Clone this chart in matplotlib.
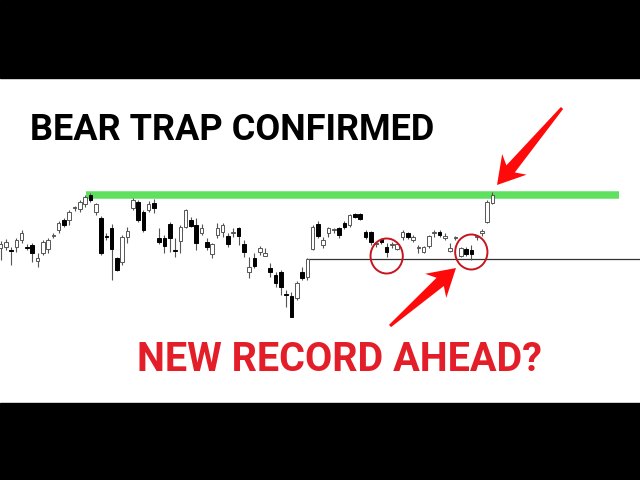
import numpy as np
import matplotlib.pyplot as plt
from matplotlib.patches import Ellipse, Polygon, Rectangle

# daily candles (price units), oldest first
opens = [152, 153, 150.5, 153, 160, 153.5, 155, 139, 147, 151,
         164, 170, 180, 180, 192, 191, 196, 205, 188, 182,
         163.5, 172, 142, 138, 163, 192, 198, 188, 190, 197,
         162, 162, 176, 149.5, 159, 173, 180, 175, 167, 158,
         146, 165, 168, 164, 167, 172, 156, 128, 142, 148,
         144, 132, 125, 128, 105.5, 104, 102, 128, 123, 151,
         176, 155, 167, 170, 172, 177, 175, 186, 186, 168,
         168, 156, 161, 153, 155, 151, 163, 167, 160, 152,
         148, 154, 167, 168, 162, 149, 162, 144, 151, 150,
         163, 167, 178, 197]
highs = [159, 161, 153, 162, 170, 156, 157, 147, 160, 162,
         167, 179, 182, 190, 194, 200, 205, 207, 197, 184,
         167, 176, 143, 165, 173, 202, 200, 190, 199, 201,
         172, 165, 178, 162, 175, 191, 183, 182, 176, 162,
         157, 177, 177, 167, 172, 173, 160, 143, 147, 154,
         152, 137, 128, 130, 110, 108, 119, 133, 142, 175,
         179, 163, 173, 172, 173, 179, 186, 187, 187, 170,
         169, 158, 162, 157, 158, 157, 170, 168, 165, 155,
         154, 165, 170, 170, 167, 157, 164, 153, 153, 155,
         165, 171, 200, 208]
lows = [140, 150, 135, 148, 157, 150, 138, 133, 145, 147,
        162, 167, 173, 175, 189, 188, 193, 198, 185, 145,
        160, 120, 129, 135, 157, 190, 178, 168, 188, 187,
        156, 147, 148, 143, 147, 172, 173, 150, 165, 150,
        142, 162, 163, 153, 163, 155, 143, 122, 132, 145,
        144, 123, 113, 105, 93, 83, 100, 120, 120, 150,
        162, 152, 163, 167, 162, 171, 173, 182, 180, 161,
        155, 153, 156, 143, 152, 150, 160, 161, 158, 147,
        147, 152, 163, 163, 160, 148, 160, 143, 144, 140,
        160, 164, 177, 196]
closes = [156, 158, 149.5, 160, 167, 152.5, 147, 142, 158, 160,
          164.5, 177, 175, 188, 192.5, 198, 203, 200, 196, 147,
          163, 151, 130, 163, 169, 200, 180, 170, 196, 192,
          158, 154, 162, 149, 173, 190, 174, 157, 172, 153,
          156, 172, 175, 156, 167.5, 164, 148, 133, 134, 152,
          147, 128, 117, 113, 105, 83, 117, 122, 141, 173,
          164, 160, 172, 170.5, 165, 173, 185, 183, 181, 163,
          158, 156.5, 158, 148, 155.5, 156, 168, 163, 163, 152.5,
          153, 164, 167.5, 165, 164, 152, 162.5, 152, 146, 146,
          163.5, 169, 198, 205]

resistance = 205.5      # green line (prior high)
support = 141.5         # black line
res_start, sup_start = 16.1, 58.0
circle_idx = [73.0, 89.0]
circle_px = [144, 148]

title = "BEAR TRAP CONFIRMED"
subtitle = "NEW RECORD AHEAD?"

o = np.array(opens); h = np.array(highs); l = np.array(lows); c = np.array(closes)
x = np.arange(len(o))
up = c >= o

fig = plt.figure(figsize=(6.4, 4.8), dpi=100, facecolor='white')
ax = fig.add_axes([0, 0, 1, 1])
ax.set_xlim(-0.5 / 5.29, 639.5 / 5.29)
ax.set_ylim(-80, 400)
ax.axis('off')

# levels
ax.plot([res_start, 117.0], [resistance, resistance], color='#5fe05f',
        lw=5.4, solid_capstyle='butt', zorder=1)
ax.plot([sup_start, 125], [support, support], color='#333333', lw=0.9, zorder=1)

# candles
ax.vlines(x, l, h, color='#555555', lw=0.8, zorder=2)
body = np.maximum(np.abs(c - o), 0.6)
bottom = np.minimum(o, c)
ax.bar(x[up], body[up], bottom=bottom[up], width=0.68, color='white',
       edgecolor='#555555', linewidth=0.7, zorder=3)
ax.bar(x[~up], body[~up], bottom=bottom[~up], width=0.68, color='black',
       edgecolor='black', linewidth=0.7, zorder=3)

for cx, cy in zip(circle_idx, circle_px):
    ax.add_patch(Ellipse((cx, cy), 6.1, 35, fill=False, edgecolor='#c8141e',
                         lw=1.4, zorder=4))

# overlay in pixel coordinates for the annotations
ov = fig.add_axes([0, 0, 1, 1])
ov.set_xlim(0, 640)
ov.set_ylim(480, 0)
ov.axis('off')
ov.patch.set_alpha(0)

ov.add_patch(Rectangle((0, 0), 640, 78, color='black', zorder=5))
ov.add_patch(Rectangle((0, 403), 640, 77, color='black', zorder=5))


def arrow(tail, tip, w0=1.5, w1=5.5, hw=16, hl=27):
    tail = np.array(tail, float); tip = np.array(tip, float)
    d = tip - tail
    u = d / np.linalg.norm(d)
    n = np.array([-u[1], u[0]])
    base = tip - u * hl
    neck = tip - u * hl * 0.78
    pts = [tail + n * w0, neck + n * w1, base + n * hw, tip,
           base - n * hw, neck - n * w1, tail - n * w0]
    ov.add_patch(Polygon(pts, closed=True, color='#ff0a0a', lw=0, zorder=6))


arrow((562, 108), (497, 185))
arrow((390, 326), (456, 268))

ov.text(30, 140, title, fontsize=26, fontweight='bold', family='Roboto',
        color='black', ha='left', va='baseline')
ov.text(137, 371, subtitle, fontsize=28.5, fontweight='bold', family='Roboto',
        color='#e31e28', ha='left', va='baseline')

fig.savefig('out.png', dpi=100, facecolor='white')
